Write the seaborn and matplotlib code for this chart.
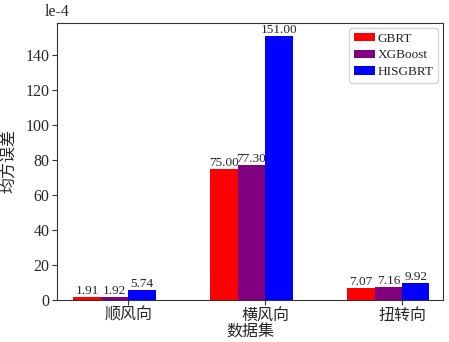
import pandas as pd
import matplotlib.pyplot as plt
import seaborn as sns

# MSE of three models on three wind directions (units 1e-4)
datasets = ["顺风向", "横风向", "扭转向"]
models = ["GBRT", "XGBoost", "HISGBRT"]
gbrt = [1.91, 75.00, 7.07]
xgboost = [1.92, 77.30, 7.16]
hisgbrt = [5.74, 151.00, 9.92]
colors = {"GBRT": "red", "XGBoost": "purple", "HISGBRT": "blue"}

df = pd.DataFrame({
    "dataset": datasets * 3,
    "model": ["GBRT"] * 3 + ["XGBoost"] * 3 + ["HISGBRT"] * 3,
    "mse": gbrt + xgboost + hisgbrt,
})

sns.set_style("ticks")
plt.rcParams["font.family"] = ["Liberation Serif", "Noto Sans CJK SC"]

fig, ax = plt.subplots(figsize=(4.49, 3.42), dpi=100)

sns.barplot(data=df, x="dataset", y="mse", hue="model", order=datasets,
            hue_order=models, palette=colors, width=0.6, saturation=1,
            linewidth=0, ax=ax, errorbar=None)

for cont in ax.containers:
    ax.bar_label(cont, fmt="%.2f", fontsize=9.5, padding=0)

bw = 0.6 / 3
ax.set_xticks([i + bw / 2 for i in range(len(datasets))])
ax.set_xticklabels(datasets, fontsize=11.5)
ax.set_xlim(-0.42, 2.40)
ax.set_ylim(0, max(hisgbrt) * 1.05)
ax.set_yticks(range(0, 141, 20))
ax.tick_params(labelsize=11.5, color="#333333", length=3.5, pad=2)

ax.set_xlabel("数据集", fontsize=11.5)
ax.xaxis.set_label_coords(0.5, -0.088)
ax.set_ylabel("均方误差", fontsize=11.5)
ax.yaxis.set_label_coords(-0.1, 0.5)
ax.text(0, 1.04, "le-4", transform=ax.transAxes, fontsize=11.5, ha="center", va="center")

ax.legend(loc="upper right", fontsize=9.5, handlelength=1.6, handleheight=0.6,
          handletextpad=0.2, labelspacing=0.35, borderaxespad=0.4,
          borderpad=0.35, fancybox=True, framealpha=0.8)

for s in ax.spines.values():
    s.set_visible(True)
    s.set_color("#333333")

plt.subplots_adjust(left=0.127, right=0.987, top=0.933, bottom=0.123)
plt.savefig("out.png", dpi=100)
